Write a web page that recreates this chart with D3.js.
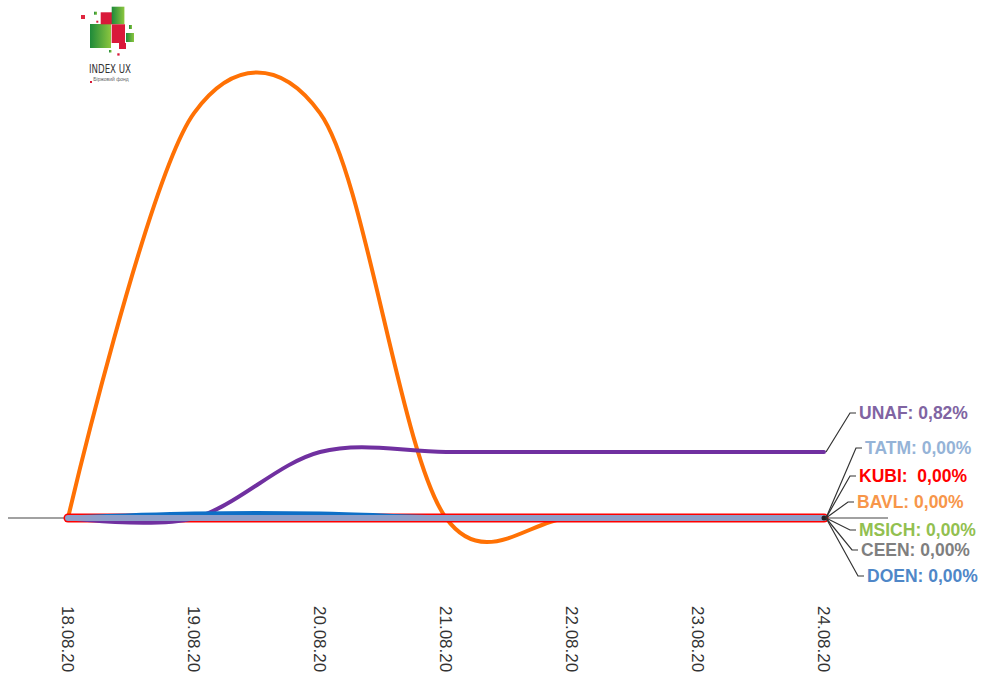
<!DOCTYPE html>
<meta charset="utf-8">
<head>
    <style>
        body {margin: 0; background: #fff;}
        svg {display: block;}
        .tick {font-family: Arial, "Liberation Sans", sans-serif; font-size: 17px; fill: #333;}
        .lbl {font-family: Arial, "Liberation Sans", sans-serif; font-size: 17.5px; font-weight: bold; white-space: pre;}
        .leader {fill: none; stroke: #333; stroke-width: 1.2;}
    </style>
    <script src="https://d3js.org/d3.v7.min.js"></script>
</head>
<body>
</body>

<script>

    // dates and daily % change per ticker
    var dates = ["18.08.20", "19.08.20", "20.08.20", "21.08.20", "22.08.20", "23.08.20", "24.08.20"];
    var BAVL  = [0, 5.03, 5.03, 0, 0, 0, 0];
    var UNAF  = [0, 0, 0.82, 0.82, 0.82, 0.82, 0.82];
    var DOEN  = [0, 0.05, 0.05, 0, 0, 0, 0];
    var CEEN  = [0, 0, 0, 0, 0, 0, 0];
    var MSICH = [0, 0, 0, 0, 0, 0, 0];
    var KUBI  = [0, 0, 0, 0, 0, 0, 0];
    var TATM  = [0, 0, 0, 0, 0, 0, 0];

    var series = [
        {name: "BAVL",  values: BAVL,  color: "#ff7104", label: "#f7964a", width: 4},
        {name: "MSICH", values: MSICH, color: "#8cb84c", label: "#92c050", width: 4},
        {name: "CEEN",  values: CEEN,  color: "#7f7f7f", label: "#7f7f7f", width: 4},
        {name: "KUBI",  values: KUBI,  color: "#ff0000", label: "#ff0000", width: 9},
        {name: "UNAF",  values: UNAF,  color: "#7030a0", label: "#8064a2", width: 4},
        {name: "DOEN",  values: DOEN,  color: "#0f6fc6", label: "#4f87c8", width: 5},
        {name: "TATM",  values: TATM,  color: "#8e9ec8", label: "#95b3d7", width: 6}
    ];

    // label layout (px) on the right
    var labelPos = {
        UNAF:  {y: 413, x: 856, text: "UNAF: "},
        TATM:  {y: 448, x: 862, text: "TATM: "},
        KUBI:  {y: 476, x: 856, text: "KUBI:  "},
        BAVL:  {y: 502, x: 854, text: "BAVL: "},
        MSICH: {y: 530, x: 856, text: "MSICH: "},
        CEEN:  {y: 550, x: 858, text: "CEEN: "},
        DOEN:  {y: 576, x: 864, text: "DOEN: "}
    };

    var W = 985, H = 673;

    var svg = d3.select("body").append("svg")
        .attr("width", W)
        .attr("height", H);

    var x = d3.scalePoint()
        .domain(dates)
        .range([68, 824]);

    var y = d3.scaleLinear()
        .domain([0, 5])
        .range([518, 115.5]);

    // logo
    var logo = svg.append("g").attr("transform", "translate(80,5)");
    var grad = svg.append("defs").append("linearGradient").attr("id", "gg");
    grad.append("stop").attr("offset", "0").attr("stop-color", "#1e8a3a");
    grad.append("stop").attr("offset", "1").attr("stop-color", "#8cc63f");
    var sq = [
        [10, 19, 21, 24, "url(#gg)"], [20.7, 7.3, 11.3, 12, "#d9193a"], [31.7, 1.7, 12.7, 17.6, "url(#gg)"],
        [31.7, 19.3, 13.3, 18.7, "#d9193a"], [46, 28, 8, 9, "url(#gg)"], [39, 38, 7, 6, "#d9193a"],
        [1, 10, 4, 4, "#e0263f"], [14, 6.7, 3, 3, "url(#gg)"], [16.3, 15.7, 2, 2, "#d9193a"],
        [49, 20, 3, 4, "url(#gg)"], [29, 45, 2.5, 2.5, "url(#gg)"], [37.3, 48.3, 2.3, 2.3, "#d9193a"]
    ];
    logo.selectAll("rect").data(sq).enter().append("rect")
        .attr("x", d => d[0]).attr("y", d => d[1])
        .attr("width", d => d[2]).attr("height", d => d[3])
        .attr("fill", d => d[4]);
    logo.append("text").attr("x", 9).attr("y", 68)
        .attr("textLength", 42).attr("lengthAdjust", "spacingAndGlyphs")
        .style("font-family", "'DejaVu Sans Condensed', Arial").style("font-size", "13px")
        .style("fill", "#333").text("INDEX UX");
    logo.append("text").attr("x", 31).attr("y", 76).attr("text-anchor", "middle")
        .style("font-family", "Arial").style("font-size", "5px")
        .style("fill", "#666").text("Біржовий фонд");
    logo.append("rect").attr("x", 10).attr("y", 76).attr("width", 2).attr("height", 2).attr("fill", "#d9193a");

    // zero line
    svg.append("line")
        .attr("x1", 8).attr("x2", 888)
        .attr("y1", y(0)).attr("y2", y(0))
        .attr("stroke", "#444").attr("stroke-width", 1.2);

    // x tick labels
    svg.selectAll(".tick").data(dates).enter().append("text")
        .attr("class", "tick")
        .attr("transform", function(d) {return "translate(" + x(d) + ",606) rotate(90)"})
        .attr("dy", "0.35em")
        .text(function(d) {return d;});

    var line = d3.line()
        .x(function(d, i) {return x(dates[i])})
        .y(function(d) {return y(d)})
        .curve(d3.curveCatmullRom.alpha(0.12));

    svg.selectAll(".series").data(series).enter().append("path")
        .attr("class", "series")
        .attr("d", function(d) {return line(d.values)})
        .attr("fill", "none")
        .attr("stroke", function(d) {return d.color})
        .attr("stroke-width", function(d) {return d.width})
        .attr("stroke-linecap", "round")
        .attr("stroke-linejoin", "round");

    // end dot
    svg.append("circle")
        .attr("cx", x(dates[6])).attr("cy", y(0)).attr("r", 2.5)
        .attr("fill", "#222");

    // leader lines + labels
    series.forEach(function(s) {
        var p = labelPos[s.name];
        var last = s.values[s.values.length - 1];
        var x0 = x(dates[dates.length - 1]) + 2, y0 = y(last);
        svg.append("polyline")
            .attr("class", "leader")
            .attr("points", [[x0, y0], [p.x - 6, p.y], [p.x, p.y]].join(" "));
        var t = svg.append("text")
            .attr("class", "lbl")
            .attr("x", p.x + 3).attr("y", p.y)
            .attr("dy", "0.35em")
            .style("fill", s.label);
        t.append("tspan").text(p.text);
        t.append("tspan").text(d3.format(".2f")(last).replace(".", ",") + "%");
    });

</script>
